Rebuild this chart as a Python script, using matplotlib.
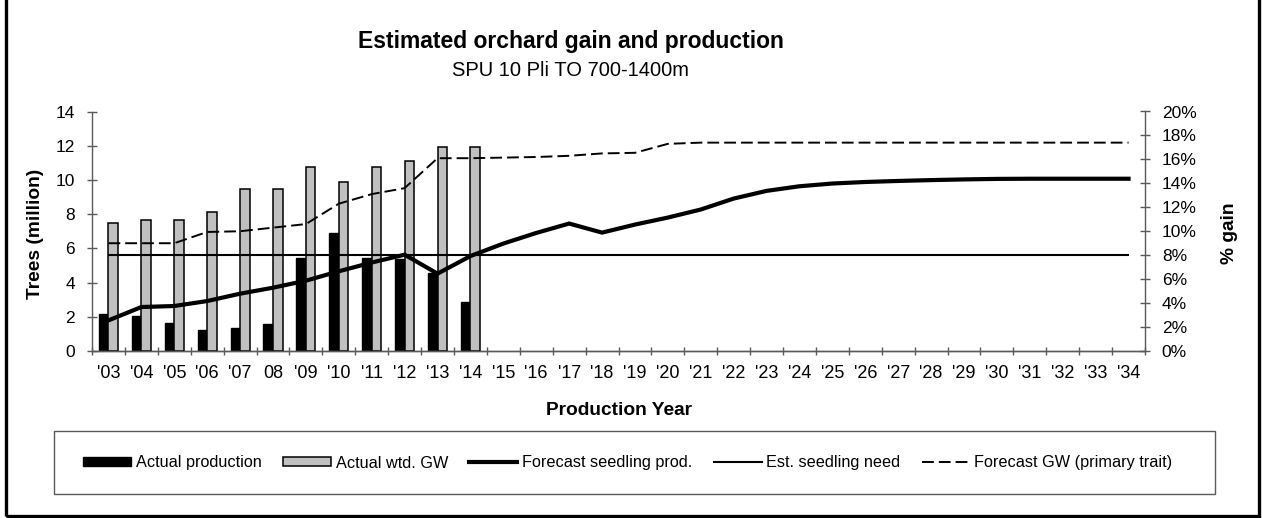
import numpy as np
import matplotlib
matplotlib.use('Agg')
import matplotlib.pyplot as plt
from matplotlib.patches import Patch, Rectangle
from matplotlib.lines import Line2D
from matplotlib.ticker import FuncFormatter, MultipleLocator, FixedLocator

plt.rcParams['font.family'] = ['Liberation Sans', 'DejaVu Sans']
plt.rcParams['lines.scale_dashes'] = False

# ─── Data ───
years = ["'03", "'04", "'05", "'06", "'07", "08", "'09", "'10", "'11", "'12",
         "'13", "'14", "'15", "'16", "'17", "'18", "'19", "'20", "'21", "'22",
         "'23", "'24", "'25", "'26", "'27", "'28", "'29", "'30", "'31", "'32",
         "'33", "'34"]

# million trees, '03-'14
actual_production = [2.18, 2.03, 1.64, 1.25, 1.33, 1.56, 5.46, 6.88, 5.44, 5.38, 4.58, 2.85]
# % gain, '03-'14
actual_gw = [10.7, 10.9, 10.9, 11.6, 13.5, 13.5, 15.4, 14.1, 15.4, 15.9, 17.0, 17.0]
# million trees, '03-'34
forecast_prod = [1.79, 2.57, 2.63, 2.92, 3.35, 3.70, 4.11, 4.66, 5.17, 5.63,
                 4.52, 5.55, 6.28, 6.90, 7.45, 6.92, 7.39, 7.80, 8.27, 8.91,
                 9.36, 9.63, 9.79, 9.88, 9.94, 9.99, 10.03, 10.06, 10.07, 10.07,
                 10.07, 10.07]
# % gain, '03-'34
forecast_gw = [9.0, 9.0, 9.0, 9.94, 10.0, 10.3, 10.6, 12.3, 13.1, 13.6,
               16.1, 16.1, 16.15, 16.2, 16.3, 16.5, 16.55, 17.3, 17.4, 17.4,
               17.4, 17.4, 17.4, 17.4, 17.4, 17.4, 17.4, 17.4, 17.4, 17.4,
               17.4, 17.4]
seedling_need = 5.6  # million trees

W, H = 1263, 518
AXIS_GREY = '#5a5a5a'
SILVER = '#c0c0c0'
GW_DASH = (8.5, 3.6)

fig = plt.figure(figsize=(W / 100, H / 100), dpi=100)
ax = fig.add_axes([92 / W, 1 - 351 / H, (1145 - 92) / W, (351 - 111.5) / H])
ax2 = ax.twinx()

x = np.arange(len(years))
xa = np.arange(len(actual_production))
bw = 0.29

ax.bar(xa - bw / 2, actual_production, width=bw, color='black',
       edgecolor='black', linewidth=1, zorder=2)
ax2.bar(xa + bw / 2, actual_gw, width=bw, color=SILVER,
        edgecolor='black', linewidth=1.1, zorder=2)

# lines in million units drawn on ax2 (so they sit above the grey bars)
ax2.plot(x, forecast_prod, color='black', linewidth=3.0, zorder=4,
         solid_joinstyle='miter', transform=ax.transData)
ax2.hlines(seedling_need, x[0], x[-1], color='black', linewidth=1.5,
           zorder=4, transform=ax.transData)
ax2.plot(x, forecast_gw, color='black', linewidth=1.4, dashes=GW_DASH,
         zorder=5)

ax.set_xlim(-0.5, len(years) - 0.5)
ax.set_ylim(0, 14)
ax2.set_ylim(0, 20)

ax.yaxis.set_major_locator(MultipleLocator(2))
ax2.yaxis.set_major_locator(MultipleLocator(2))
ax2.yaxis.set_major_formatter(FuncFormatter(lambda v, p: f'{v:.0f}%'))

ax.xaxis.set_major_locator(FixedLocator(np.arange(-0.5, len(years), 1.0)))
ax.xaxis.set_major_formatter(FuncFormatter(lambda v, p: ''))
ax.xaxis.set_minor_locator(FixedLocator(x))
ax.set_xticklabels(years, minor=True)

for a in (ax, ax2):
    for s in a.spines.values():
        s.set_color(AXIS_GREY)
        s.set_linewidth(1)
    a.spines['top'].set_visible(False)
ax.spines['right'].set_visible(False)
ax2.spines['left'].set_visible(False)

ax.tick_params(axis='y', direction='inout', length=7.2, width=1,
               color=AXIS_GREY, pad=8.5, labelsize=12.5)
ax2.tick_params(axis='y', direction='inout', length=7.2, width=1,
                color=AXIS_GREY, pad=8.5, labelsize=12.5)
ax.tick_params(axis='x', which='major', direction='inout', length=6,
               width=1, color=AXIS_GREY)
ax.tick_params(axis='x', which='minor', length=0, pad=10, labelsize=13)

# titles and axis labels
fig.text(571 / W, 1 - 48 / H, 'Estimated orchard gain and production',
         ha='center', va='baseline', fontsize=16.5, fontweight='bold')
fig.text(571 / W, 1 - 76 / H, 'SPU 10 Pli TO 700-1400m',
         ha='center', va='baseline', fontsize=14.5)
fig.text(619 / W, 1 - 415 / H, 'Production Year', ha='center', va='baseline',
         fontsize=13.75, fontweight='bold')
fig.text(35 / W, 1 - 234 / H, 'Trees (million)', ha='center', va='center',
         rotation=90, fontsize=13.75, fontweight='bold')
fig.text(1230 / W, 1 - 233 / H, '% gain', ha='center', va='center',
         rotation=90, fontsize=13.75, fontweight='bold')

# legend box
fig.patches.append(Rectangle((54 / W, 1 - 494 / H), (1215 - 54) / W,
                             (494 - 431) / H, transform=fig.transFigure,
                             facecolor='none', edgecolor=AXIS_GREY,
                             linewidth=1))
handles = [
    Patch(facecolor='black', edgecolor='black', linewidth=1),
    Patch(facecolor=SILVER, edgecolor='black', linewidth=1.1),
    Line2D([], [], color='black', linewidth=3.0),
    Line2D([], [], color='black', linewidth=1.5),
    Line2D([], [], color='black', linewidth=1.4, dashes=GW_DASH),
]
labels = ['Actual production', 'Actual wtd. GW', 'Forecast seedling prod.',
          'Est. seedling need', 'Forecast GW (primary trait)']
fig.legend(handles, labels, loc='center', bbox_to_anchor=(628 / W, 1 - 463 / H),
           ncol=5, frameon=False, fontsize=11.7, handlelength=2.95,
           handleheight=0.5, handletextpad=0.3, columnspacing=1.3)

# outer chart border
fig.patches.append(Rectangle((5.7 / W, 1 - 516 / H), (1259 - 5.7) / W,
                             (516 + 10) / H, transform=fig.transFigure,
                             facecolor='none', edgecolor='black',
                             linewidth=2.4))

fig.savefig('out.png', dpi=100)
